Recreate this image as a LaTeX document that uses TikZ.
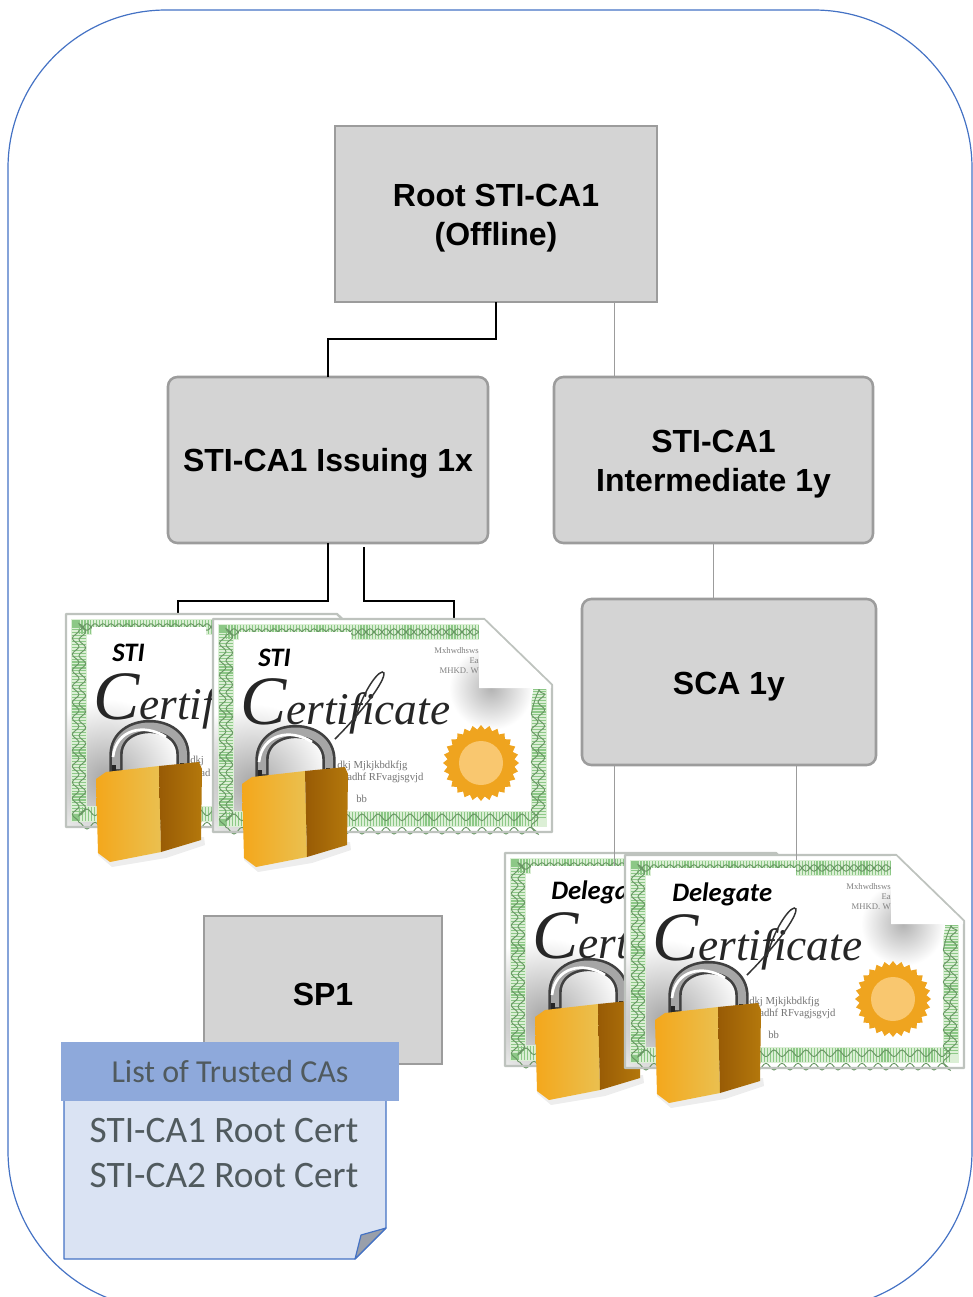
\documentclass[tikz,border=0pt]{standalone}
\usepackage{fontspec}
\setmainfont{Liberation Sans}
\newfontfamily\calfont{Carlito}
\newfontfamily\wordfont{Liberation Serif}
\usetikzlibrary{shapes.geometric,decorations.pathmorphing}
\definecolor{boxfill}{HTML}{D4D4D4}
\definecolor{boxedge}{HTML}{9C9C9C}
\definecolor{outline}{HTML}{4472C4}
\definecolor{notefill}{HTML}{DAE3F3}
\definecolor{notehead}{HTML}{8EA9DB}
\definecolor{notetext}{HTML}{505A5E}
\definecolor{certedge}{HTML}{BEC3BE}
\definecolor{bandlight}{HTML}{DCEFD6}
\definecolor{banddark}{HTML}{8CC886}
\definecolor{gold1}{HTML}{F4A71B}
\definecolor{gold2}{HTML}{EAC050}
\definecolor{gold3}{HTML}{985B05}
\definecolor{gold4}{HTML}{B4780C}
\definecolor{seal1}{HTML}{EFA41F}
\definecolor{seal2}{HTML}{F9C76F}
\newcommand{\capstrut}{\rule{0pt}{23pt}}
\tikzset{
  cabox/.style={draw=boxedge,fill=boxfill,line width=1.9pt,outer sep=0pt,align=center,
    font=\fontsize{24}{29}\selectfont\bfseries},
  roundbox/.style={cabox,rounded corners=7pt},
  blackline/.style={black,line width=.8pt},
  greyline/.style={boxedge,line width=.7pt},
  tinytext/.style={text=gray,inner sep=0pt,font=\wordfont\fontsize{6.5}{7}\selectfont},
  smalltext/.style={text=black!55,inner sep=0pt,font=\wordfont\fontsize{8}{9}\selectfont},
  bandpath/.style={insert path={(266,13) -- (13,13) -- (13,200) -- (326,200) -- (326,70)}},
  chainline/.style={banddark!75!black,line width=.7pt,decorate,bandpath},
}
% lock: x, y, name prefix
\newcommand{\lockdraw}[3]{
  \begin{scope}[shift={(#1,#2)}]
    \fill[black,opacity=.07] (2,78) -- (16,90) -- (70,81) -- (109,68) -- (108,60) -- (2,70) -- cycle;
    \draw[black!75,line width=10pt] (20,2) -- (20,-22) .. controls (20,-60) and (87,-60) .. (87,-22) -- (87,-2);
    \draw[black!35,line width=6pt] (20,-8) -- (20,-22) .. controls (20,-60) and (87,-60) .. (87,-22) -- (87,-8);
    \draw[white,line width=2pt] (17,-20) .. controls (20,-48) and (48,-54) .. (70,-40);
    \draw[black!85,line width=2.5pt] (18,2) -- (18,-12);
    \draw[black!85,line width=2.5pt] (86,0) -- (86,-14);
    \shade[left color=gold1,right color=gold2] (0,2) -- (10,-5) -- (63,-11) -- (65,75) -- (14,85) -- (2,76) -- cycle;
    \shade[left color=gold3,right color=gold4] (63,-11) -- (103,-15) -- (106,-8) -- (105,63) -- (65,75) -- cycle;
    \coordinate (#3) at (50,40);
  \end{scope}
}
% certificate: x, y, label, label x, label box right end, word tail, name prefix
\newcommand{\certdraw}[7]{
  \begin{scope}[shift={(#1,#2)}]
    \fill[white] (0,0) -- (271,0) -- (339,66) -- (339,213) -- (0,213) -- cycle;
    \begin{scope}
      \clip (0,0) rectangle (339,213);
      \shade[inner color=black!35,outer color=white] (40,165) circle (80);
    \end{scope}
    \draw[bandlight,line width=12pt,bandpath];
    \draw[banddark,line width=11pt,dash pattern=on .9pt off 1.3pt,bandpath];
    \draw[chainline,decoration={snake,amplitude=2.5pt,segment length=12pt}];
    \draw[chainline,decoration={snake,amplitude=2.5pt,segment length=12pt,mirror}];
    \fill[white] (26,13) rectangle (#5,60);
    \node[anchor=west,inner sep=0pt,font=\calfont\fontsize{20}{22}\selectfont\bfseries\itshape] (#7label) at (#4,39) {#3};
    \node[anchor=base west,inner sep=0pt,text height=33pt,text depth=0pt,text=black!85,font=\wordfont\itshape\fontsize{34}{40}\selectfont] (#7word) at (27,105) {{\fontsize{52}{52}\selectfont C}#6};
    \draw[certedge,line width=1.8pt,line join=round] (0,0) -- (271,0) -- (339,66) -- (339,213) -- (0,213) -- cycle;
  \end{scope}
}
% what only the full certificate in front shows: x, y, name prefix
\newcommand{\certdetail}[3]{
  \begin{scope}[shift={(#1,#2)}]
    \begin{scope}
      \clip (236,24) -- (266,24) -- (266,69) -- (320,69) -- (320,112) -- (236,112) -- cycle;
      \shade[inner color=black!30,outer color=white] (278,69) ellipse (42 and 42);
    \end{scope}
    \draw[black!80,line width=1.1pt] (122,120) .. controls (150,92) and (172,62) .. (171,54) .. controls (168,48) and (150,70) .. (142,102);
    \node[tinytext,anchor=east] (#3inka) at (266,32) {Mxhwdhsws};
    \node[tinytext,anchor=east] (#3inkb) at (266,42) {Ea};
    \node[tinytext,anchor=east] (#3inkc) at (266,52) {MHKD. W};
    \node[smalltext,anchor=west] (#3inkd) at (124,147) {dkj Mjkjkbdkfjg};
    \node[smalltext,anchor=west] (#3inke) at (134,159) {adhf RFvagjsgvjd};
    \node[smalltext,anchor=west] (#3inkf) at (143,180) {bb};
    \fill[white] (266,1) -- (271,1) -- (338,66) -- (338,69) -- (266,69) -- cycle;
    \node[star,star points=28,star point ratio=1.13,fill=seal1,minimum size=57pt,inner sep=0pt] (#3seal) at (268,144) {};
    \node[circle,fill=seal2,minimum size=33pt,inner sep=0pt] (#3sealin) at (268,144) {};
  \end{scope}
}
\begin{document}
\begin{tikzpicture}[x=.75pt,y=-.75pt]
  \useasboundingbox (0,0) rectangle (973,1297);
  \clip (0,0) rectangle (973,1297);
  \draw[outline,line width=.9pt,rounded corners=118.5pt] (8,10) rectangle (972,1309);

  \node[cabox,minimum width=241.5pt,minimum height=132pt] (root) at (496,214) {\capstrut Root STI-CA1\\(Offline)};
  \node[roundbox,minimum width=240pt,minimum height=124.5pt] (issuing) at (328,460) {\capstrut STI-CA1 Issuing 1x};
  \node[roundbox,minimum width=239.25pt,minimum height=124.5pt] (inter) at (713.5,460) {\capstrut STI-CA1\\Intermediate 1y};
  \node[roundbox,minimum width=220.5pt,minimum height=124.5pt] (sca) at (729,682) {\capstrut SCA 1y};

  \coordinate (rootout) at (614,302);
  \coordinate (issuingout) at (364,547);
  \coordinate (scaouta) at (614,766);
  \coordinate (scaoutb) at (796,766);
  \coordinate (stia) at (178,616);
  \coordinate (stib) at (454,621);
  \coordinate (delega) at (614,866);
  \coordinate (delegb) at (796,860);

  \draw[blackline] (root.south) -- ++(0,37) -| (issuing.north);
  \draw[greyline] (rootout) -- (rootout |- inter.north);
  \draw[blackline] (issuing.south) -- ++(0,58) -| (stia);
  \draw[blackline] (issuingout) -- ++(0,54) -| (stib);
  \draw[greyline] (inter.south) -- (inter.south |- sca.north);

  \certdraw{66}{614}{STI}{46}{140}{ertif}{stiA}
  \node[smalltext,anchor=west] (stiAinkd) at (190,761) {dkj};
  \node[smalltext,anchor=west] (stiAinke) at (200,773) {ad};
  \lockdraw{96}{777}{lockA}
  \certdraw{213}{619}{STI}{45}{138}{ertificate}{stiB}
  \certdetail{213}{619}{stiB}
  \lockdraw{242}{782}{lockB}

  \certdraw{505}{853}{Delega}{46}{171}{ert}{delA}
  \draw[greyline] (scaouta) -- (delega);
  \lockdraw{535}{1015}{lockC}
  \certdraw{625}{855}{Delegate}{47}{171}{ertificate}{delB}
  \certdetail{625}{855}{delB}
  \draw[greyline] (scaoutb) -- (delegb);
  \lockdraw{655}{1018}{lockD}

  \node[cabox,minimum width=178.5pt,minimum height=111pt] (spone) at (323,990) {\capstrut SP1};

  \draw[outline,fill=notefill,line width=.9pt,line join=round] (64,1095) -- (386,1095) -- (386,1228) -- (355,1259) -- (64,1259) -- cycle;
  \draw[outline,fill=black!30!notefill,line width=.9pt,line join=round] (386,1228) -- (361,1235) -- (355,1259) -- cycle;
  \node[fill=notehead,text=notetext,minimum width=253.5pt,minimum height=44.25pt,inner sep=0pt,font=\calfont\fontsize{24}{27}\selectfont] (notetitle) at (230,1071.5) {List of Trusted CAs};
  \node[text=notetext,align=center,inner sep=0pt,font=\calfont\fontsize{28}{33.75}\selectfont] (notelist) at (224,1153) {STI-CA1 Root Cert\\STI-CA2 Root Cert};
\end{tikzpicture}
\end{document}
